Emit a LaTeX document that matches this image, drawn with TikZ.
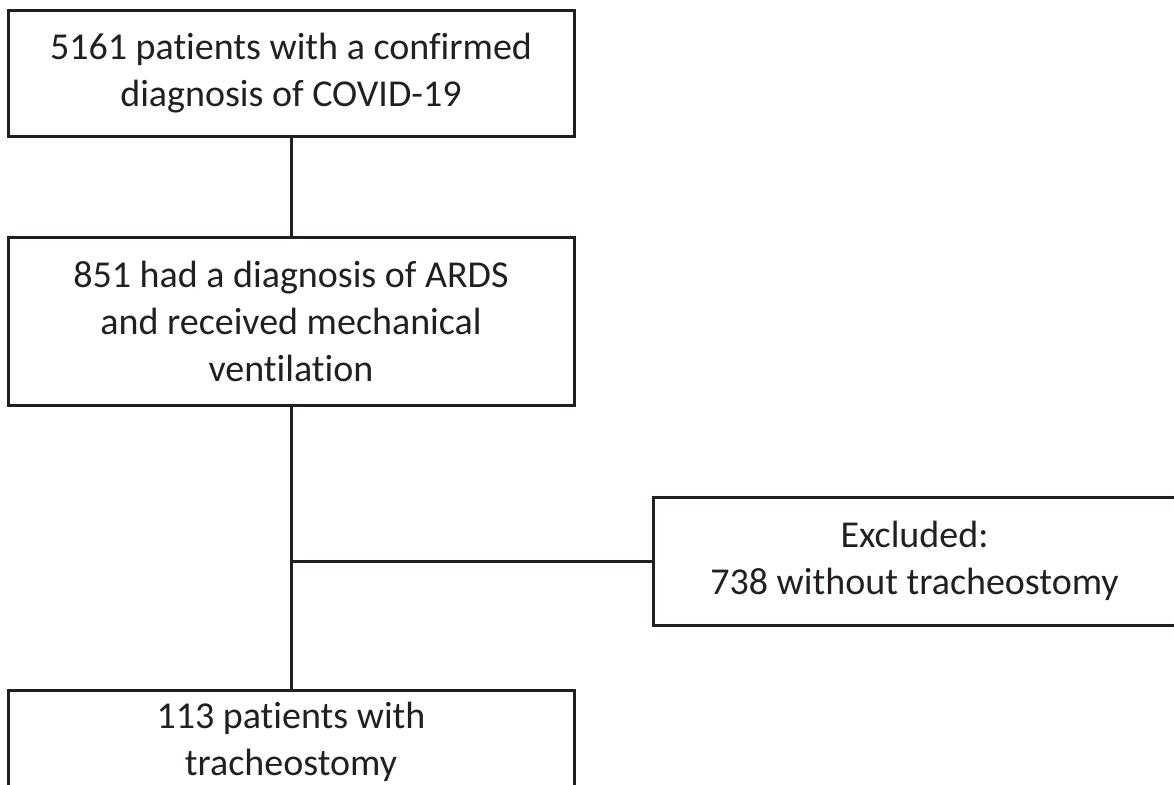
\documentclass[tikz,border=0pt]{standalone}
\usepackage{fontspec}
\setmainfont{Carlito}[Ligatures=NoCommon]
\usepackage{xcolor}
\usepackage{tikz}
\usetikzlibrary{arrows.meta,calc,positioning}

\definecolor{boxline}{HTML}{231F20}

\begin{document}
\begin{tikzpicture}[
  x=0.5pt, y=-0.5pt,
  box/.style={
    draw=boxline,
    line width=1.5pt,
    minimum width=283pt,
    align=center,
    font=\fontsize{19pt}{23.5pt}\selectfont,
    text=boxline,
    inner sep=0pt
  },
  link/.style={
    draw=boxline,
    line width=1.5pt
  }
]
\useasboundingbox (0,0) rectangle (1174,784);

% Boxes
\node[box, minimum height=63pt] (confirmed) at (291,73)
  {5161 patients with a confirmed\\diagnosis of COVID-19};

\node[box, minimum height=84pt] (ards) at (291,321)
  {851 had a diagnosis of ARDS\\and received mechanical\\ventilation};

\node[box, minimum width=261.5pt, minimum height=64pt] (excluded) at (914.5,561)
  {Excluded:\\738 without tracheostomy};

\node[box, minimum height=52pt] (tracheo) at (291,742)
  {113 patients with\\tracheostomy};

% Connectors
\coordinate (split) at (ards.south |- excluded.west);

\draw[link] (confirmed.south) -- (ards.north);
\draw[link] (ards.south) -- (tracheo.north);
\draw[link] (split) -- (excluded.west);

\end{tikzpicture}
\end{document}
